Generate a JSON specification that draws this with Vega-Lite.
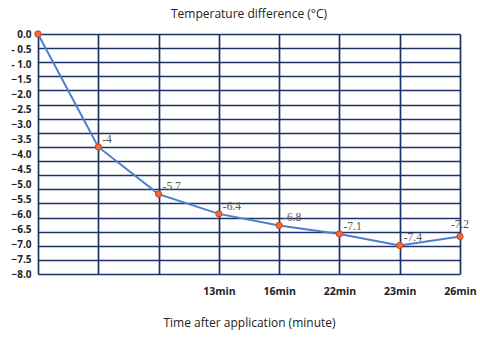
{
  "$schema": "https://vega.github.io/schema/vega-lite/v6.json",
  "width": 422,
  "height": 240,
  "autosize": "none",
  "padding": {"left": 38, "top": 34, "right": 20, "bottom": 66},
  "background": "white",
  "config": {"view": {"stroke": null}},
  "title": {"text": "Temperature difference (°C)", "font": "Open Sans", "fontSize": 12, "fontWeight": "normal", "color": "#222", "anchor": "middle", "offset": 0},
  "data": {"values": [
    {"idx": 0, "value": 0, "label": ""},
    {"idx": 1, "value": -4.0, "label": "-4"},
    {"idx": 2, "value": -5.67, "label": "-5.7"},
    {"idx": 3, "value": -6.37, "label": "-6.4"},
    {"idx": 4, "value": -6.78, "label": "-6.8"},
    {"idx": 5, "value": -7.08, "label": "-7.1"},
    {"idx": 6, "value": -7.49, "label": "-7.4"},
    {"idx": 7, "value": -7.17, "label": "-7.2"}
  ]},
  "layer": [
    {
      "mark": {"type": "point", "opacity": 0},
      "encoding": {
        "y": {"field": "value", "type": "quantitative",
          "scale": {"domain": [-8, 0], "nice": false, "zero": false},
          "axis": {"orient": "left", "title": null, "grid": false, "ticks": false, "domain": false,
            "values": [0, -0.5, -1, -1.5, -2, -2.5, -3, -3.5, -4, -4.5, -5, -5.5, -6, -6.5, -7, -7.5, -8],
            "labelExpr": "datum.value == 0 ? '0.0' : (datum.value > -1.1 ? '- ' + format(-datum.value, '.1f') : format(datum.value, '.1f'))",
            "labelFont": "Open Sans", "labelFontWeight": "bold", "labelFontSize": 10, "labelColor": "#222", "labelPadding": 7, "labelFlush": false}}
      }
    },
    {
      "encoding": {
        "x": {"field": "idx", "type": "quantitative",
          "scale": {"domain": [0, 7], "nice": false, "zero": false},
          "axis": {"values": [0, 1, 2, 3, 4, 5, 6, 7], "grid": true, "gridColor": "#1f3266", "gridWidth": 1.7, "gridOpacity": 1,
            "ticks": false, "domain": false, "labelFlush": false, "labelOverlap": false,
            "labelExpr": "['', '', '', '13min', '16min', '22min', '23min', '26min'][datum.value]",
            "labelFont": "Open Sans", "labelFontWeight": "bold", "labelFontSize": 10.5, "labelColor": "#222", "labelPadding": 12, "labelDx": -8,
            "title": "Time after application (minute)", "titleFont": "Open Sans", "titleFontSize": 12, "titleFontWeight": "normal", "titleColor": "#222", "titlePadding": 21}},
        "y": {"field": "value", "type": "quantitative",
          "scale": {"domain": [-8.5, 0], "nice": false, "zero": false},
          "axis": {"orient": "left", "title": null, "labels": false, "ticks": false, "domain": false, "grid": true,
            "gridColor": "#1f3266", "gridWidth": 1.7, "gridOpacity": 1,
            "values": [0, -0.5, -1, -1.5, -2, -2.5, -3, -3.5, -4, -4.5, -5, -5.5, -6, -6.5, -7, -7.5, -8, -8.5]}}
      },
      "layer": [
        {"mark": {"type": "line", "color": "#4a7fd0", "strokeWidth": 2}},
        {"mark": {"type": "point", "filled": true, "fill": "#f26a3a", "stroke": "#c4461e", "strokeWidth": 1, "opacity": 1, "size": 40}},
        {"transform": [{"filter": "datum.idx < 7"}],
          "mark": {"type": "text", "align": "left", "baseline": "middle", "dx": 4, "dy": -7, "font": "Liberation Serif", "fontSize": 11.5, "color": "#555"},
          "encoding": {"text": {"field": "label"}}},
        {"transform": [{"filter": "datum.idx == 7"}],
          "mark": {"type": "text", "align": "center", "baseline": "bottom", "dy": -6, "font": "Liberation Serif", "fontSize": 11.5, "color": "#555"},
          "encoding": {"text": {"field": "label"}}}
      ]
    }
  ],
  "resolve": {"scale": {"y": "independent"}}
}
